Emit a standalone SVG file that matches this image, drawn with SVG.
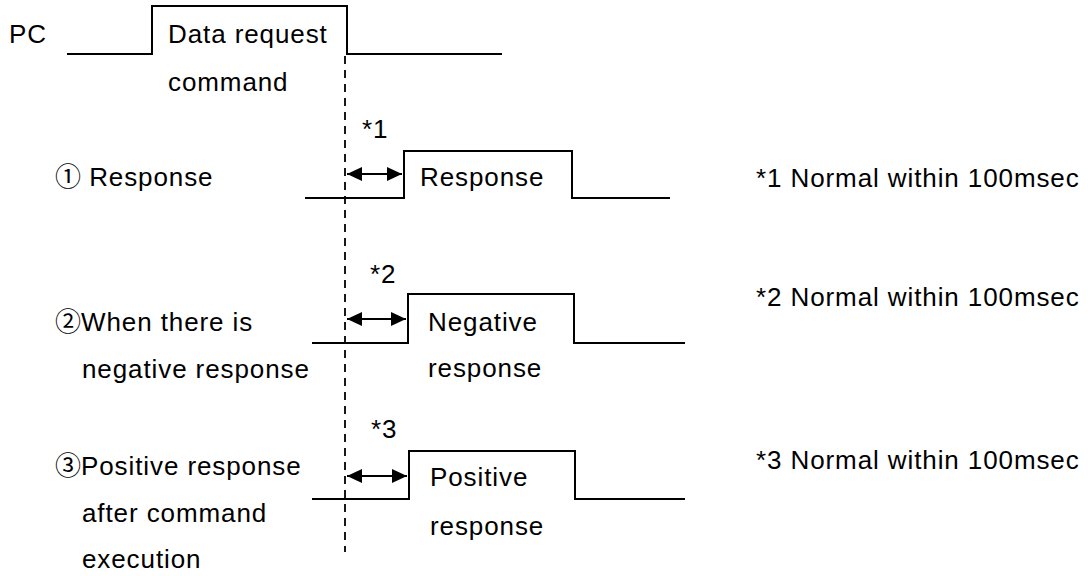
<svg xmlns="http://www.w3.org/2000/svg" width="1088" height="576" viewBox="0 0 1088 576">
<style>
text{font-family:"Liberation Sans",Arial,sans-serif;font-size:26px;fill:#000;letter-spacing:0.9px}
.c{font-family:"Noto Sans CJK JP","Noto Sans CJK SC",sans-serif;letter-spacing:0}
.w{fill:none;stroke:#000;stroke-width:2}
.d{fill:none;stroke:#000;stroke-width:1.8;stroke-dasharray:8 6}
.a{fill:none;stroke:#000;stroke-width:1.8;marker-start:url(#ah);marker-end:url(#ah)}
</style>
<defs>
<marker id="ah" viewBox="0 0 15 14" refX="15" refY="7" markerWidth="15" markerHeight="14" markerUnits="userSpaceOnUse" orient="auto-start-reverse">
<path d="M0,0 L15,7 L0,14 Z" fill="#000"/>
</marker>
</defs>
<rect width="1088" height="576" fill="#fff"/>
<g id="pc">
<text x="9" y="43">PC</text>
<polyline class="w" points="67,54 152,54 152,6 347,6 347,54 502,54"/>
<text x="168" y="43">Data request</text>
<text x="168" y="91">command</text>
</g>
<g id="row1">
<text x="55" y="186"><tspan class="c">①</tspan> Response</text>
<polyline class="w" points="305,198 404,198 404,151 572,151 572,198 670,198"/>
<text x="420" y="186">Response</text>
<text x="362" y="138">*1</text>
<text x="756" y="187">*1 Normal within 100msec</text>
</g>
<g id="row2">
<text x="55" y="331"><tspan class="c">②</tspan>When there is</text>
<text x="82" y="378">negative response</text>
<polyline class="w" points="312,343 408,343 408,294 574,294 574,343 685,343"/>
<text x="428" y="331">Negative</text>
<text x="428" y="377">response</text>
<text x="370" y="283">*2</text>
<text x="756" y="306">*2 Normal within 100msec</text>
</g>
<g id="row3">
<text x="55" y="475"><tspan class="c">③</tspan>Positive response</text>
<text x="82" y="522">after command</text>
<text x="82" y="568">execution</text>
<polyline class="w" points="312,499 409,499 409,451 575,451 575,499 685,499"/>
<text x="430" y="486">Positive</text>
<text x="430" y="535">response</text>
<text x="371" y="438">*3</text>
<text x="756" y="469">*3 Normal within 100msec</text>
</g>
<g id="connectors">
<line class="d" x1="345" y1="56" x2="345" y2="552"/>
<line class="a" x1="347" y1="174" x2="402" y2="174"/>
<line class="a" x1="347" y1="319" x2="406" y2="319"/>
<line class="a" x1="347" y1="476" x2="407" y2="476"/>
</g>
</svg>
